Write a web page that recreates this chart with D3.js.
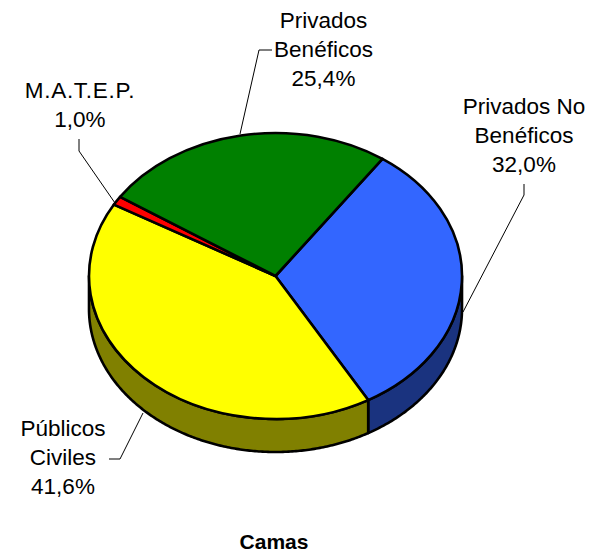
<!DOCTYPE html>
<html>
<head>
<meta charset="utf-8">
<script src="https://cdn.jsdelivr.net/npm/d3@7"></script>
<style>
  html, body { margin: 0; padding: 0; background: #fff; }
  text { font-family: "Liberation Sans", Arial, sans-serif; fill: #000; }
</style>
</head>
<body>
<div class="canvas"></div>
<script>
// order follows the pie clockwise, starting at the blue/green edge
const categories = ['Privados No Benéficos', 'Públicos Civiles', 'M.A.T.E.P.', 'Privados Benéficos'];
const values = [32.0, 41.6, 1.0, 25.4];
const valueLabels = ['32,0%', '41,6%', '1,0%', '25,4%'];
const labelLines = [['Privados No', 'Benéficos'], ['Públicos', 'Civiles'], ['M.A.T.E.P.'], ['Privados', 'Benéficos']];
const topColors = ['#3366ff', '#ffff00', '#ff0000', '#008000'];
const sideColors = ['#1a337f', '#808000', '#800000', '#004000'];

const width = 595;
const height = 559;
const cx = 275.5, cy = 276, rx = 186.5, ry = 143, depth = 33;
const startAngle = 35 * Math.PI / 180;

// label placement and leader lines, in page pixels
const labelPos = [
  { x: 524, y: 114 },
  { x: 63, y: 436 },
  { x: 80, y: 98 },
  { x: 323.5, y: 28 }
];
const leaders = [
  [[463, 312], [524, 195], [524, 184]],
  [[143, 413], [120, 459], [109, 459]],
  [[115, 203], [79, 151], [79, 139]],
  [[240, 134], [259, 50], [272, 50]]
];
const lineStep = 29;

const svg = d3.select('.canvas')
  .append('svg')
  .attr('width', width)
  .attr('height', height)
  .style('display', 'block');

const slices = d3.pie()
  .sort(null)
  .startAngle(startAngle)
  .endAngle(startAngle + 2 * Math.PI)
  .value(d => d)(values);

const px = a => cx + rx * Math.sin(a);
const py = (a, dy) => cy + dy - ry * Math.cos(a);

// side wall: only the part of the rim that faces the viewer
const wall = svg.append('g');
slices.forEach((s, i) => {
  const a0 = Math.max(s.startAngle, Math.PI / 2);
  const a1 = Math.min(s.endAngle, Math.PI * 1.5);
  if (a1 <= a0) return;
  const path = d3.path();
  const steps = d3.range(a0, a1, 0.01).concat([a1]);
  steps.forEach((a, k) => k ? path.lineTo(px(a), py(a, 0)) : path.moveTo(px(a), py(a, 0)));
  steps.reverse().forEach(a => path.lineTo(px(a), py(a, depth)));
  path.closePath();
  wall.append('path')
    .attr('d', path.toString())
    .attr('fill', sideColors[i])
    .attr('stroke', '#000')
    .attr('stroke-width', 2.6)
    .attr('stroke-linejoin', 'round');
});

// top face: circular d3 arcs squashed into an ellipse
const arc = d3.arc().innerRadius(0).outerRadius(rx);
svg.append('g')
  .attr('transform', `translate(${cx}, ${cy}) scale(1, ${ry / rx})`)
  .selectAll('path')
  .data(slices)
  .enter()
  .append('path')
  .attr('d', arc)
  .attr('fill', (d, i) => topColors[i])
  .attr('stroke', '#000')
  .attr('stroke-width', 2.6)
  .attr('stroke-linejoin', 'round')
  .attr('vector-effect', 'non-scaling-stroke');

svg.append('g')
  .selectAll('path')
  .data(leaders)
  .enter()
  .append('path')
  .attr('d', d3.line())
  .attr('fill', 'none')
  .attr('stroke', '#000')
  .attr('stroke-width', 1);

categories.forEach((c, i) => {
  const lines = labelLines[i].concat([valueLabels[i]]);
  const t = svg.append('text')
    .attr('text-anchor', 'middle')
    .style('font-size', '22.5px');
  lines.forEach((l, k) => {
    t.append('tspan')
      .attr('x', labelPos[i].x)
      .attr('y', labelPos[i].y + k * lineStep)
      // the dotted abbreviation runs a little wider in the original
      .style('letter-spacing', l === 'M.A.T.E.P.' ? '0.7px' : null)
      .text(l);
  });
});

svg.append('text')
  .attr('x', 274)
  .attr('y', 549)
  .attr('text-anchor', 'middle')
  .style('font-size', '21px')
  .style('font-weight', 'bold')
  .text('Camas');
</script>
</body>
</html>
